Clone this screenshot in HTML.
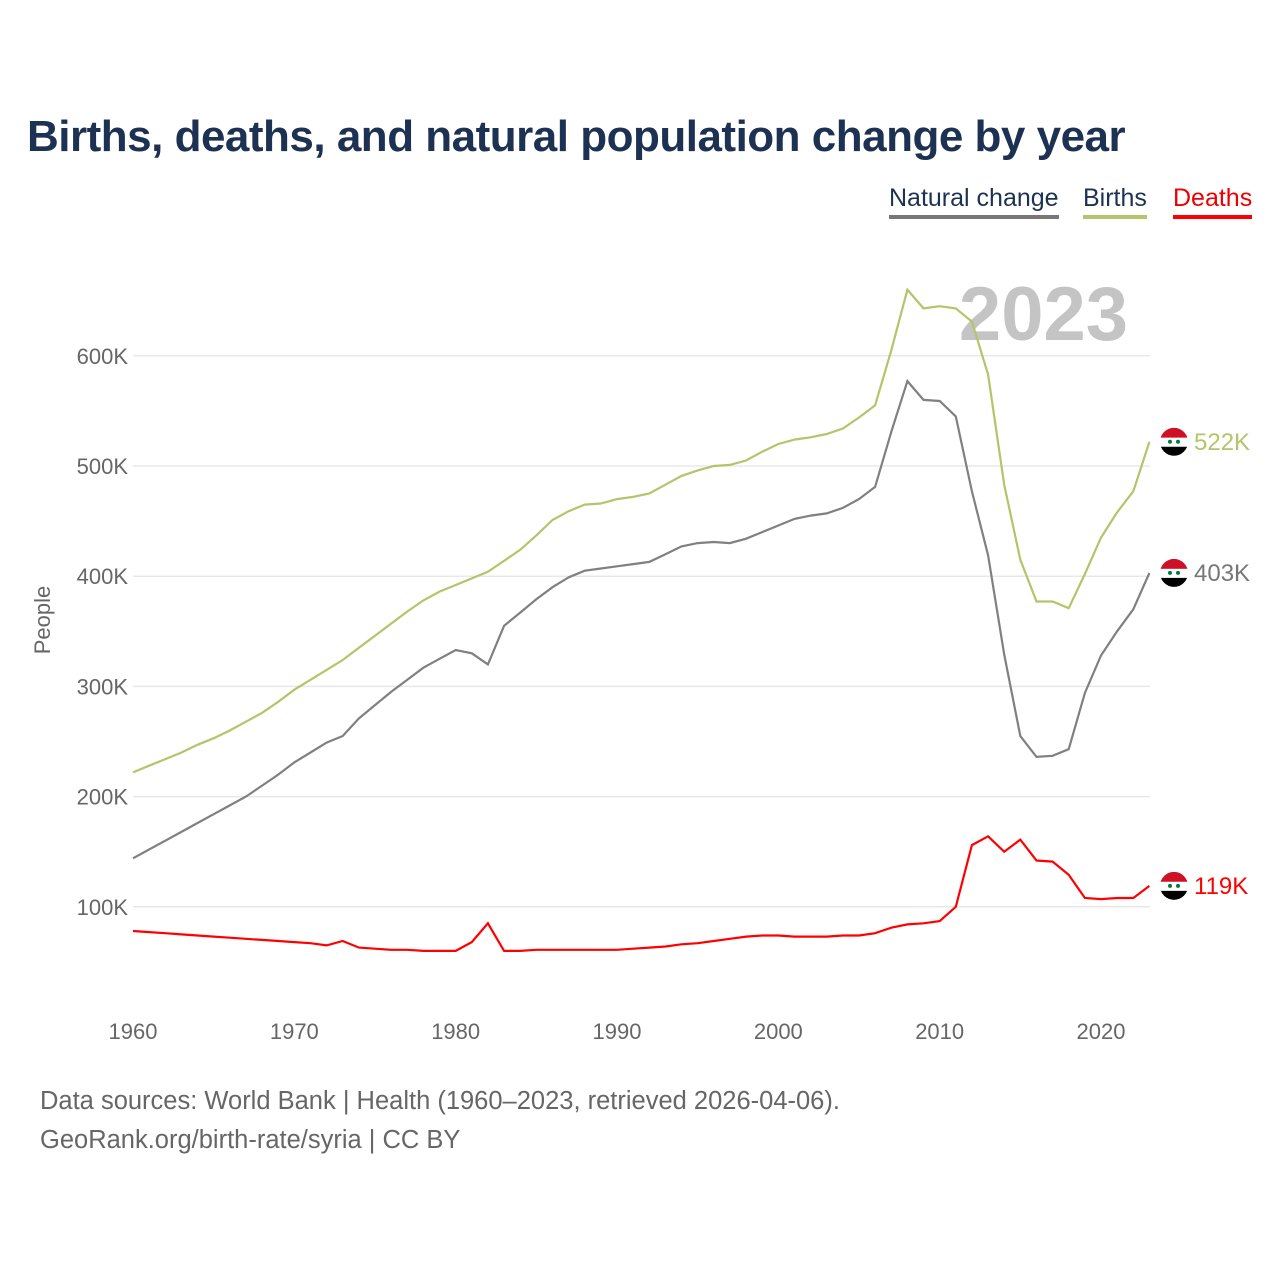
<!DOCTYPE html>
<html><head><meta charset="utf-8"><style>
body{margin:0;background:#fff;font-family:"Liberation Sans",sans-serif;}
#wrap{position:relative;width:1280px;height:1280px;}
h1{position:absolute;left:27px;top:112px;margin:0;font-size:44px;font-weight:bold;color:#1d3152;letter-spacing:-0.5px;}
.leg{position:absolute;top:184px;font-size:25px;padding-bottom:2px;}
.foot{position:absolute;left:40px;font-size:25.5px;color:#666;}
</style></head><body><div id="wrap">
<h1>Births, deaths, and natural population change by year</h1>
<div class="leg" style="left:889px;color:#1d3152;border-bottom:4px solid #777">Natural change</div>
<div class="leg" style="left:1083px;color:#1d3152;border-bottom:4px solid #b5c46a">Births</div>
<div class="leg" style="left:1173px;color:#e00;border-bottom:4px solid #f00">Deaths</div>
<svg id="chart" width="1280" height="1280" style="position:absolute;left:0;top:0"></svg>
<div class="foot" style="top:1087px">Data sources: World Bank | Health (1960–2023, retrieved 2026-04-06).</div>
<div class="foot" style="top:1126px">GeoRank.org/birth-rate/syria | CC BY</div>
</div>
<script>
const years=[];for(let y=1960;y<=2023;y++)years.push(y);
const births=[222,228,234,240,247,253,260,268,276,286,297,306,315,324,335,346,357,368,378,386,392,398,404,414,424,437,451,459,465,466,470,472,475,483,491,496,500,501,505,513,520,524,526,529,534,544,555,605,660,643,645,643,631,583,483,415,377,377,371,402,435,458,477,522];
const natural=[144,152,160,168,176,184,192,200,210,220,231,240,249,255,271,283,295,306,317,325,333,330,320,355,367,379,390,399,405,407,409,411,413,420,427,430,431,430,434,440,446,452,455,457,462,470,481,531,577,560,559,545,477,419,329,255,236,237,243,294,328,350,370,403];
const deaths=[78,77,76,75,74,73,72,71,70,69,68,67,65,69,63,62,61,61,60,60,60,68,85,60,60,61,61,61,61,61,61,62,63,64,66,67,69,71,73,74,74,73,73,73,74,74,76,81,84,85,87,100,156,164,150,161,142,141,129,108,107,108,108,119];
const yTicks=[100,200,300,400,500,600];
const xTicks=[1960,1970,1980,1990,2000,2010,2020];
const NS="http://www.w3.org/2000/svg";
const svg=document.getElementById('chart');
const xS=y=>133+(y-1960)*(1101-133)/60;
const yS=v=>1017-v*1.102;
function mk(t,a){const e=document.createElementNS(NS,t);for(const k in a)e.setAttribute(k,a[k]);svg.appendChild(e);return e;}
yTicks.forEach(v=>{
 const l=mk('line',{x1:133,x2:1150,y1:yS(v),y2:yS(v),stroke:'#e8e8e8','stroke-width':1.5});
 
 
 const t=mk('text',{x:128,y:yS(v)+8,'text-anchor':'end','font-size':22,fill:'#666'});
 t.textContent=v+'K';
 
 
});
xTicks.forEach(y=>{
 const t=mk('text',{x:xS(y),y:1039,'text-anchor':'middle','font-size':22,fill:'#666'});
 t.textContent=y;
 
 
});
const yt=mk('text',{x:0,y:0,transform:'translate(50,620) rotate(-90)','text-anchor':'middle','font-size':22,fill:'#666'});
yt.textContent='People';


const yr=mk('text',{x:1128,y:340,'text-anchor':'end','font-size':76,'font-weight':'bold',fill:'#c4c4c4'});
yr.textContent='2023';


function series(data,color,name,lblColor){
 const d=data.map((v,i)=>(i?'L':'M')+xS(years[i]).toFixed(1)+','+yS(v).toFixed(1)).join('');
 const p=mk('path',{d:d,fill:'none',stroke:color,'stroke-width':2.2});
 
 
 const last=data[data.length-1],cx=1174,cy=yS(last);
 const g=document.createElementNS(NS,'g');svg.appendChild(g);
 
 
 g.innerHTML=`<clipPath id="c${name}"><circle cx="${cx}" cy="${cy}" r="14"/></clipPath><g clip-path="url(#c${name})"><rect x="${cx-14}" y="${cy-14}" width="28" height="10" fill="#ce1126"/><rect x="${cx-14}" y="${cy-4}" width="28" height="9" fill="#fff"/><rect x="${cx-14}" y="${cy+5}" width="28" height="10" fill="#000"/><circle cx="${cx-4}" cy="${cy}" r="2" fill="#007a3d"/><circle cx="${cx+4}" cy="${cy}" r="2" fill="#007a3d"/></g>`;
 const t=mk('text',{x:1194,y:cy+8,'font-size':24,fill:lblColor});
 t.textContent=last+'K';
 
 
}
series(births,'#b5c46a','births','#b5c46a');
series(natural,'#808080','natural-change','#777');
series(deaths,'#ff0000','deaths','#f00');
</script></body></html>
